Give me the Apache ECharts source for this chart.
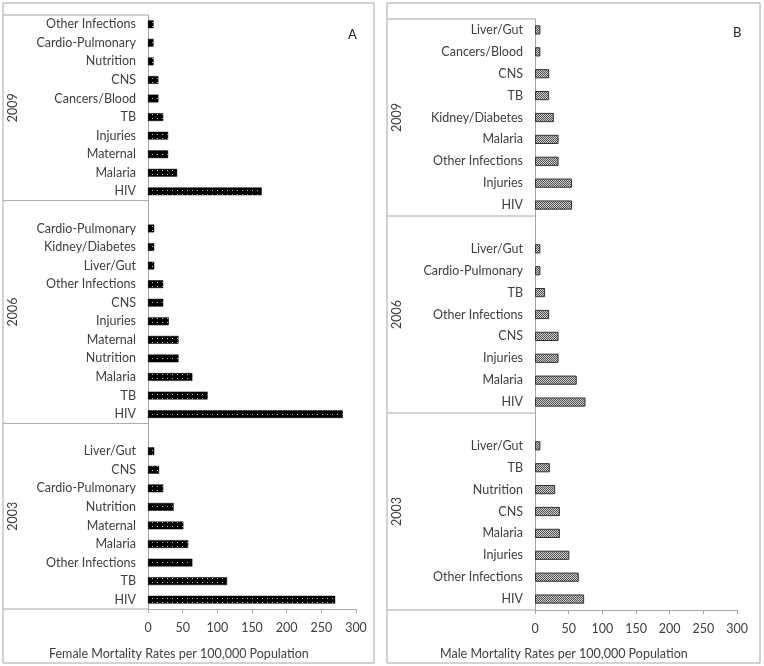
<!DOCTYPE html>
<html><head><meta charset="utf-8">
<script src="https://cdn.jsdelivr.net/npm/echarts@6/dist/echarts.min.js"></script>
<style>html,body{margin:0;padding:0;background:#fff}#c{width:764px;height:666px}</style>
</head><body><div id="c"></div>
<script>
// Each group listed bottom-to-top (as drawn on the axis)
const years = ['2003', '2006', '2009'];
const femaleCats2003 = ['HIV','TB','Other Infections','Malaria','Maternal','Nutrition','Cardio-Pulmonary','CNS','Liver/Gut'];
const female2003 = [270, 114, 64, 58, 51, 37, 22, 16, 9];
const femaleCats2006 = ['HIV','TB','Malaria','Nutrition','Maternal','Injuries','CNS','Other Infections','Liver/Gut','Kidney/Diabetes','Cardio-Pulmonary'];
const female2006 = [281, 86, 64, 44, 44, 30, 22, 22, 9, 9, 9];
const femaleCats2009 = ['HIV','Malaria','Maternal','Injuries','TB','Cancers/Blood','CNS','Nutrition','Cardio-Pulmonary','Other Infections'];
const female2009 = [164, 42, 29, 29, 22, 15, 15, 8, 8, 8];
const maleCats2003 = ['HIV','Other Infections','Injuries','Malaria','CNS','Nutrition','TB','Liver/Gut'];
const male2003 = [73, 65, 51, 37, 37, 30, 22, 8];
const maleCats2006 = ['HIV','Malaria','Injuries','CNS','Other Infections','TB','Cardio-Pulmonary','Liver/Gut'];
const male2006 = [75, 62, 35, 35, 21, 15, 8, 8];
const maleCats2009 = ['HIV','Injuries','Other Infections','Malaria','Kidney/Diabetes','TB','CNS','Cancers/Blood','Liver/Gut'];
const male2009 = [55, 55, 35, 35, 28, 21, 21, 8, 8];
const xMin = 0, xMax = 300, xStep = 50;

function build(groups) {
  const cats = [], vals = [], ranges = [];
  groups.forEach(([c, v], gi) => {
    const start = cats.length;
    c.forEach((name, i) => { cats.push(name); vals.push(v[i]); });
    if (gi < groups.length - 1) { cats.push(''); vals.push(null); }
    ranges.push([start, cats.length - 1]);
  });
  return { cats, vals, ranges };
}
const F = build([[femaleCats2003, female2003], [femaleCats2006, female2006], [femaleCats2009, female2009]]);
const M = build([[maleCats2003, male2003], [maleCats2006, male2006], [maleCats2009, male2009]]);

function makePattern(w, h, bg, fg, dots) {
  const c = document.createElement('canvas'); c.width = w; c.height = h;
  const x = c.getContext('2d'); x.fillStyle = bg; x.fillRect(0, 0, w, h);
  x.fillStyle = fg; dots.forEach(([a, b]) => x.fillRect(a, b, 1, 1));
  return c;
}
const patA = makePattern(5, 4, '#000', '#c8c8c8', [[2, 2]]);
const patB = makePattern(2, 2, '#d0d0d0', '#505050', [[0, 0], [1, 1]]);

const FONT = 'Lato';
const txt = '#404040';
const gray = '#a6a6a6';

const chart = echarts.init(document.getElementById('c'), null, { renderer: 'canvas' });
const grids = [
  { left: 148, right: 408, top: 15, bottom: 57 },
  { left: 535, right: 27, top: 19, bottom: 56 }
];
function xAxis(gi) {
  return {
    gridIndex: gi, type: 'value', min: xMin, max: xMax, interval: xStep,
    axisLine: { show: true, lineStyle: { color: gray } },
    axisTick: { show: true, length: 4, lineStyle: { color: gray } },
    splitLine: { show: false },
    axisLabel: { color: txt, fontFamily: FONT, fontSize: 12.5, margin: 12 }
  };
}
function yAxis(gi, cats) {
  return {
    gridIndex: gi, type: 'category', data: cats,
    axisLine: { show: true, lineStyle: { color: gray } },
    axisTick: { show: false },
    axisLabel: { color: txt, fontFamily: FONT, fontSize: 12.5, margin: 12, interval: 0 }
  };
}
chart.setOption({
  animation: false,
  grid: grids,
  xAxis: [xAxis(0), xAxis(1)],
  yAxis: [yAxis(0, F.cats), yAxis(1, M.cats)],
  title: [
    { text: 'Female Mortality Rates per 100,000 Population', left: 44, top: 642, textStyle: { color: txt, fontFamily: FONT, fontSize: 12.5, fontWeight: 'normal' } },
    { text: 'Male Mortality Rates per 100,000 Population', left: 435, top: 642, textStyle: { color: txt, fontFamily: FONT, fontSize: 12.5, fontWeight: 'normal' } },
    { text: 'A', left: 343, top: 23, textStyle: { color: '#222', fontFamily: FONT, fontSize: 13, fontWeight: 'normal' } },
    { text: 'B', left: 728, top: 21, textStyle: { color: '#222', fontFamily: FONT, fontSize: 13, fontWeight: 'normal' } }
  ],
  series: [
    { type: 'bar', xAxisIndex: 0, yAxisIndex: 0, data: F.vals, barWidth: '42%',
      itemStyle: { color: { image: patA, repeat: 'repeat' }, borderColor: '#000', borderWidth: 0.5 } },
    { type: 'bar', xAxisIndex: 1, yAxisIndex: 1, data: M.vals, barWidth: '42%',
      itemStyle: { color: { image: patB, repeat: 'repeat' }, borderColor: '#333', borderWidth: 1 } }
  ]
});

// Decorations: panel frames, group boxes and year labels, positioned from the axes
const panels = [[3, 3, 371, 660], [387, 3, 373, 660]];
const graphics = [];
panels.forEach(([x, y, w, h]) => graphics.push({ type: 'rect', shape: { x, y, width: w, height: h }, style: { fill: null, stroke: gray, lineWidth: 1 }, silent: true }));
[[0, F], [1, M]].forEach(([gi, D]) => {
  const px = i => chart.convertToPixel({ gridIndex: gi }, [0, i]);
  const axisX = px(0)[0];
  const band = Math.abs(px(0)[1] - px(1)[1]);
  const leftX = panels[gi][0];
  const bounds = [];
  D.ranges.forEach(([s, e], k) => {
    const yb = px(s)[1] + band / 2, yt = px(e)[1] - band / 2;
    bounds.push(yb, yt);
    graphics.push({ type: 'text', x: leftX + 10, y: (yb + yt) / 2, rotation: Math.PI / 2,
      style: { text: years[k], fill: txt, font: '12.5px ' + FONT, align: 'center', verticalAlign: 'middle' }, silent: true });
  });
  [...new Set(bounds.map(v => Math.round(v * 10) / 10))].forEach(yv => {
    graphics.push({ type: 'line', shape: { x1: leftX, y1: yv, x2: axisX, y2: yv }, style: { stroke: gray, lineWidth: 1 }, silent: true });
  });
});
chart.setOption({ graphic: graphics });
</script></body></html>
